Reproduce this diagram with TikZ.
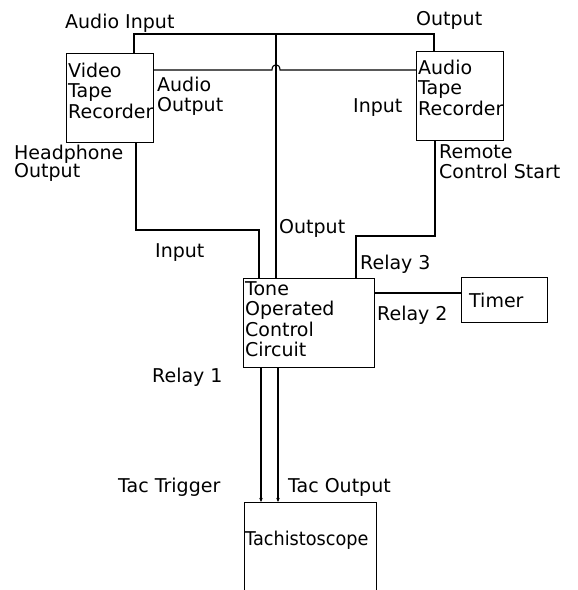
\documentclass[tikz,border=0pt]{standalone}
\usepackage{fontspec}
\setmainfont{DejaVu Sans}
\usetikzlibrary{arrows.meta,calc}
\newcommand\mylines[1]{\begin{tabular}[t]{@{}l@{}}#1\end{tabular}}
\begin{document}
\begin{tikzpicture}[x=1pt,y=-1pt,
  font=\fontsize{19}{20.5}\selectfont,
  box/.style={draw, line width=1.1pt, anchor=north west, inner sep=0pt},
  wire/.style={line width=1.1pt},
  lbl/.style={anchor=base west, inner sep=0pt},
  tip/.style={-{Stealth[length=4pt,width=3.5pt]}}]
\useasboundingbox (0,0) rectangle (578,590);
\clip (0,0) rectangle (578,590);
% boxes
\node[box, minimum width=87pt, minimum height=89pt] (vtr) at (66,53) {};
\node[box, minimum width=87pt, minimum height=89pt] (atr) at (416,51) {};
\node[box, minimum width=131pt, minimum height=89pt] (tone) at (243,278) {};
\node[box, minimum width=86pt, minimum height=45pt] (timer) at (461,277) {};
\node[box, minimum width=132pt, minimum height=110pt] (tach) at (244,502) {};
% box texts
\node[lbl] (vtrt) at (68,77) {\mylines{Video\\Tape\\Recorder}};
\node[lbl] (atrt) at (418,74) {\mylines{Audio\\Tape\\Recorder}};
\node[lbl] (tonet) at (245,295) {\mylines{Tone\\Operated\\Control\\Circuit}};
\node[lbl] (timert) at (469,307) {Timer};
\node[lbl] (tacht) at (245,545) {\scalebox{0.93}[1]{Tachistoscope}};
% coordinates
\coordinate (ytop) at (0,34);
\coordinate (ya) at (0,70);
\coordinate (yhp) at (0,230);
\coordinate (yrc) at (0,236);
\coordinate (yr2) at (0,293);
\coordinate (xai) at (134,0);
\coordinate (xout) at (434,0);
\coordinate (xo) at (276,0);
\coordinate (xhp) at (136,0);
\coordinate (xin) at (259,0);
\coordinate (xrc) at (435,0);
\coordinate (xr3) at (356,0);
\coordinate (xt1) at (261,0);
\coordinate (xt2) at (278,0);
% connectors
\draw[wire] (xai |- vtr.north) |- (xout |- ytop) -- (xout |- atr.north);
\draw[wire] (xo |- ytop) -- (xo |- tone.north);
\draw[wire] (vtr.east |- ya) -- ($(xo |- ya)+(-4,0)$)
  .. controls ($(xo |- ya)+(-4,-7)$) and ($(xo |- ya)+(4,-7)$) .. ($(xo |- ya)+(4,0)$)
  -- (atr.west |- ya);
\draw[wire] (xhp |- vtr.south) |- (xin |- yhp) -- (xin |- tone.north);
\draw[wire] (xrc |- atr.south) |- (xr3 |- yrc) -- (xr3 |- tone.north);
\draw[wire] (tone.east |- yr2) -- (timer.west |- yr2);
\draw[wire,tip] (xt1 |- tone.south) -- (xt1 |- tach.north);
\draw[wire,tip] (xt2 |- tone.south) -- (xt2 |- tach.north);
% labels
\node[lbl] (l1) at (65,28) {Audio Input};
\node[lbl] (l2) at (416,25) {Output};
\node[lbl] (l3) at (157,91) {\mylines{Audio\\Output}};
\node[lbl] (l4) at (353,112) {Input};
\node[lbl] (l5) at (14,159) {\mylines{Headphone\\[-2pt]Output}};
\node[lbl] (l6) at (439,158) {\mylines{Remote\\Control Start}};
\node[lbl] (l7) at (279,233) {Output};
\node[lbl] (l8) at (155,257) {Input};
\node[lbl] (l9) at (360,269) {Relay 3};
\node[lbl] (l10) at (377,320) {Relay 2};
\node[lbl] (l11) at (152,382) {Relay 1};
\node[lbl] (l12) at (118,492) {Tac Trigger};
\node[lbl] (l13) at (288,492) {Tac Output};
\end{tikzpicture}
\end{document}
